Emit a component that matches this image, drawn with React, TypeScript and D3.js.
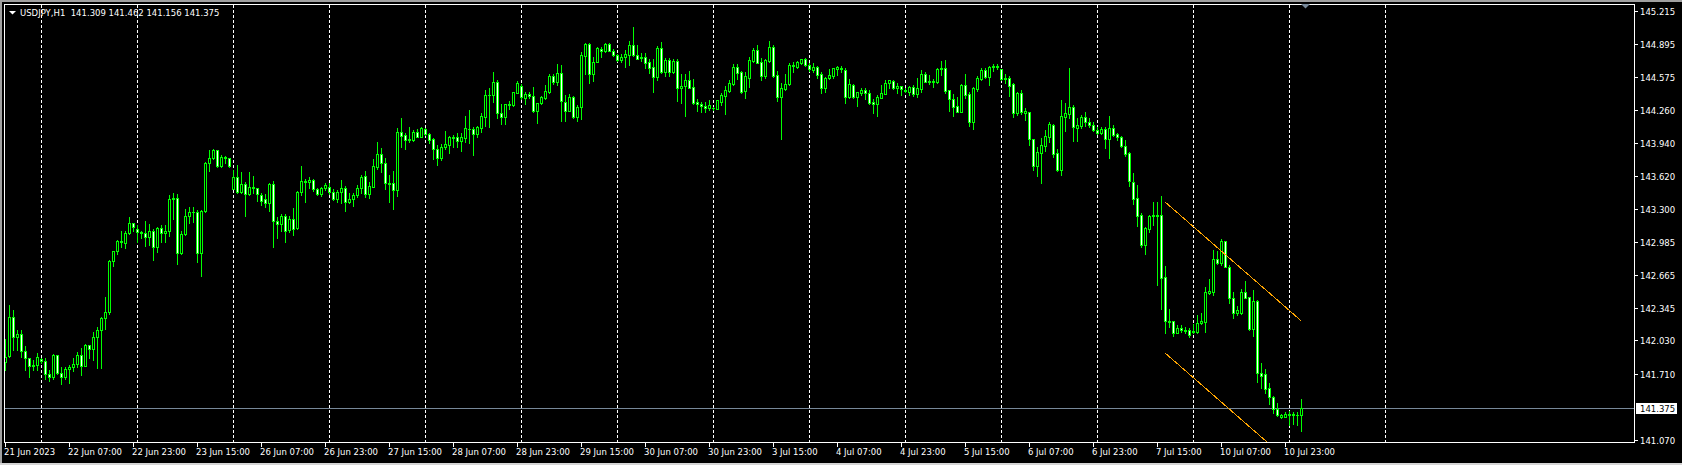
import React from 'react';
import * as d3 from 'd3';

// ---- DATA (USDJPY H1, bar 0 = 21 Jun 2023 15:00) ----
const opens = [
141.818,141.882,142.253,142.059,142.092,141.930,141.856,141.785,141.792,141.847,
141.827,141.702,141.679,141.885,141.718,141.679,141.753,141.769,141.801,141.885,
141.785,141.982,141.943,142.059,142.130,142.250,142.301,142.794,142.891,142.988,
142.975,143.065,143.162,143.110,143.078,143.071,143.033,143.084,142.930,143.116,
143.065,143.084,143.394,143.403,142.878,143.055,143.229,143.271,143.268,142.872,
143.278,143.745,143.790,143.871,143.719,143.800,143.793,143.490,143.606,143.468,
143.539,143.442,143.510,143.503,143.432,143.394,143.355,143.539,143.184,143.152,
143.229,143.097,143.200,143.113,143.461,143.568,143.558,143.577,143.490,143.442,
143.500,143.510,
143.461,143.400,143.461,143.500,143.371,143.394,143.432,143.503,143.619,143.442,
143.516,143.710,143.832,143.742,143.552,143.552,143.487,144.042,144.013,143.967,
143.967,144.042,144.000,144.074,144.022,143.974,143.877,143.797,143.903,143.919,
143.996,143.993,143.961,143.990,144.077,144.074,144.025,144.087,144.193,144.399,
144.399,144.525,144.225,144.187,144.312,144.306,144.425,144.493,144.377,144.412,
144.393,144.251,144.328,144.377,144.435,144.583,144.531,144.612,144.332,144.251,
144.380,144.187,144.290,144.783,144.892,144.609,144.725,144.851,144.825,144.892,
144.831,144.786,144.744,144.767,144.793,144.883,144.793,144.757,144.773,144.718,
144.670,144.580,
144.854,144.629,144.738,144.629,144.732,144.468,144.493,144.545,144.481,144.332,
144.313,144.300,144.274,144.274,144.271,144.339,144.394,144.445,144.510,144.674,
144.626,144.442,144.571,144.735,144.838,144.726,144.587,144.735,144.864,144.593,
144.387,144.461,144.506,144.693,144.677,144.716,144.751,144.693,144.645,144.677,
144.603,144.468,144.564,144.590,144.658,144.668,144.645,144.387,144.500,144.387,
144.426,144.452,144.419,144.332,144.313,144.377,144.416,144.516,144.539,144.468,
144.490,144.448,144.435,144.477,144.410,144.461,144.603,144.532,144.532,144.526,
144.651,144.661,144.448,144.365,144.294,144.242,144.500,144.410,144.145,144.461,
144.558,144.645,144.580,
144.677,144.683,144.651,144.564,144.564,144.509,144.226,144.419,144.232,144.235,
143.974,143.720,143.839,143.913,144.000,144.113,143.839,143.678,144.193,144.219,
144.284,144.087,144.103,144.187,144.145,144.110,144.065,144.032,144.074,143.981,
144.081,144.023,144.000,143.913,143.839,143.559,143.404,143.243,142.956,143.111,
143.233,143.243,143.243,142.640,142.221,142.215,142.105,142.153,142.131,142.131,
142.115,142.115,142.195,142.211,142.492,142.501,142.814,142.775,142.991,142.743,
142.437,142.292,142.292,142.495,142.447,142.137,142.414,141.712,141.705,141.567,
141.480,141.364,141.293,141.293,141.319,141.312,141.306,141.309
];

const highs = [
142.046,142.372,142.324,142.130,142.130,141.976,141.856,141.840,141.911,141.856,
141.856,141.743,141.895,141.888,141.772,141.776,141.789,141.856,141.918,141.953,
141.992,141.985,142.114,142.162,142.259,142.446,142.807,142.897,143.000,143.084,
143.084,143.226,143.168,143.145,143.084,143.187,143.152,143.104,143.123,143.142,
143.142,143.436,143.452,143.445,143.087,143.300,143.316,143.316,143.291,143.291,
143.751,143.871,143.877,143.871,143.819,143.813,143.797,143.677,143.726,143.661,
143.564,143.661,143.619,143.503,143.452,143.445,143.548,143.571,143.220,143.252,
143.252,143.232,143.310,143.474,143.716,143.587,143.613,143.587,143.500,143.510,
143.555,143.548,
143.490,143.484,143.581,143.523,143.452,143.452,143.532,143.629,143.668,143.558,
143.781,143.948,143.887,143.790,143.629,143.668,144.083,144.180,144.032,144.090,
144.064,144.077,144.090,144.080,144.038,143.983,143.919,143.929,144.054,144.006,
144.016,144.038,144.038,144.200,144.258,144.096,144.103,144.225,144.451,144.467,
144.625,144.548,144.316,144.316,144.348,144.432,144.538,144.506,144.432,144.428,
144.483,144.328,144.393,144.499,144.606,144.602,144.702,144.693,144.403,144.409,
144.390,144.303,144.815,144.909,144.902,144.767,144.863,144.870,144.902,144.902,
144.844,144.799,144.796,144.838,144.928,145.060,144.886,144.812,144.805,144.747,
144.754,144.876,
144.912,144.758,144.758,144.748,144.751,144.603,144.603,144.635,144.558,144.365,
144.339,144.332,144.355,144.290,144.352,144.419,144.493,144.548,144.700,144.700,
144.635,144.629,144.774,144.854,144.887,144.764,144.751,144.925,144.887,144.635,
144.516,144.603,144.709,144.719,144.735,144.751,144.758,144.709,144.716,144.680,
144.629,144.574,144.655,144.668,144.687,144.684,144.661,144.555,144.510,144.435,
144.468,144.468,144.452,144.365,144.403,144.500,144.548,144.551,144.548,144.519,
144.493,144.474,144.487,144.500,144.564,144.642,144.629,144.597,144.558,144.668,
144.735,144.742,144.452,144.410,144.387,144.506,144.603,144.435,144.484,144.587,
144.661,144.668,144.687,
144.703,144.703,144.658,144.606,144.587,144.516,144.435,144.451,144.274,144.242,
143.981,143.903,143.984,144.065,144.145,144.123,143.881,144.355,144.322,144.661,
144.306,144.177,144.210,144.242,144.177,144.145,144.097,144.090,144.097,144.200,
144.110,144.039,144.007,143.968,143.855,143.652,143.533,143.265,143.123,143.243,
143.365,143.368,143.430,142.750,142.331,142.221,142.182,142.179,142.157,142.147,
142.189,142.276,142.292,142.550,142.627,142.904,142.898,143.011,142.991,142.756,
142.501,142.363,142.524,142.608,142.453,142.517,142.421,141.808,141.750,141.615,
141.493,141.422,141.319,141.338,141.351,141.338,141.338,141.462
];

const lows = [
141.743,141.872,141.937,141.937,141.872,141.743,141.679,141.743,141.743,141.814,
141.660,141.640,141.660,141.705,141.608,141.653,141.615,141.737,141.776,141.695,
141.782,141.856,141.840,141.760,141.766,142.137,142.285,142.749,142.865,142.936,
142.923,143.058,143.087,142.981,143.017,142.942,142.952,142.807,142.888,142.984,
142.981,143.039,143.200,142.768,142.865,143.049,143.168,143.171,142.791,142.656,
143.271,143.671,143.780,143.703,143.703,143.742,143.710,143.490,143.458,143.452,
143.233,143.436,143.452,143.381,143.339,143.323,143.284,142.936,143.017,143.087,
142.984,143.078,143.052,143.107,143.439,143.371,143.500,143.474,143.436,143.426,
143.484,143.445,
143.387,143.371,143.362,143.284,143.355,143.333,143.420,143.452,143.420,143.403,
143.516,143.684,143.661,143.490,143.371,143.300,143.429,143.903,143.877,143.951,
143.961,143.993,143.993,144.020,143.942,143.787,143.729,143.774,143.884,143.845,
143.903,143.897,143.864,143.951,143.942,143.822,144.000,144.048,144.103,144.096,
144.338,144.177,144.122,144.122,144.270,144.296,144.419,144.361,144.319,144.370,
144.238,144.135,144.316,144.367,144.425,144.509,144.496,144.154,144.154,144.248,
144.177,144.154,144.167,144.609,144.522,144.541,144.722,144.767,144.822,144.825,
144.780,144.735,144.722,144.677,144.696,144.783,144.747,144.735,144.660,144.619,
144.435,144.548,
144.613,144.590,144.590,144.613,144.345,144.329,144.203,144.468,144.319,144.249,
144.242,144.236,144.258,144.255,144.268,144.307,144.220,144.435,144.500,144.558,
144.426,144.371,144.484,144.726,144.709,144.545,144.571,144.726,144.580,144.345,
143.978,144.452,144.500,144.629,144.661,144.700,144.680,144.635,144.622,144.571,
144.426,144.435,144.558,144.571,144.597,144.622,144.329,144.377,144.377,144.300,
144.403,144.365,144.319,144.232,144.203,144.371,144.410,144.468,144.461,144.423,
144.403,144.435,144.403,144.397,144.387,144.435,144.526,144.506,144.484,144.519,
144.597,144.426,144.249,144.203,144.236,144.236,144.371,144.107,144.074,144.445,
144.548,144.571,144.500,
144.638,144.651,144.548,144.516,144.396,144.193,144.210,144.219,144.161,143.919,
143.678,143.620,143.555,143.865,143.952,143.800,143.668,143.629,144.058,144.177,
143.961,143.961,144.081,144.103,144.090,144.055,144.026,144.026,143.894,143.797,
144.007,143.968,143.897,143.813,143.526,143.349,143.136,142.936,142.866,143.082,
143.146,142.566,142.331,142.105,142.163,142.073,142.098,142.115,142.098,142.060,
142.098,142.105,142.189,142.115,142.476,142.469,142.769,142.759,142.737,142.389,
142.244,142.276,142.285,142.437,142.131,142.073,141.631,141.567,141.518,141.415,
141.325,141.299,141.277,141.293,141.212,141.222,141.212,141.156
];

const closes = [
141.872,142.253,142.059,142.092,141.930,141.856,141.785,141.792,141.872,141.827,
141.702,141.679,141.885,141.718,141.679,141.753,141.769,141.801,141.885,141.785,
141.982,141.943,142.059,142.130,142.250,142.301,142.794,142.891,142.988,142.978,
143.068,143.162,143.129,143.078,143.071,143.033,143.084,142.930,143.116,143.065,
143.084,143.394,143.403,142.878,143.055,143.229,143.271,143.268,142.872,143.278,
143.745,143.790,143.871,143.719,143.800,143.793,143.719,143.606,143.468,143.539,
143.442,143.510,143.503,143.442,143.381,143.355,143.539,143.184,143.152,143.229,
143.087,143.200,143.107,143.461,143.568,143.561,143.577,143.490,143.442,143.500,
143.529,143.461,
143.400,143.461,143.500,143.371,143.394,143.432,143.503,143.610,143.449,143.523,
143.716,143.832,143.742,143.555,143.545,143.487,144.042,144.006,143.967,143.974,
144.042,144.000,144.080,144.025,143.967,143.877,143.797,143.897,143.926,143.996,
143.990,143.961,143.993,144.080,144.071,144.025,144.090,144.196,144.399,144.403,
144.525,144.225,144.187,144.312,144.309,144.428,144.515,144.380,144.412,144.396,
144.248,144.322,144.380,144.438,144.583,144.531,144.612,144.348,144.251,144.380,
144.187,144.290,144.786,144.892,144.609,144.725,144.854,144.825,144.892,144.831,
144.789,144.744,144.767,144.796,144.883,144.793,144.754,144.773,144.715,144.664,
144.580,144.854,
144.629,144.738,144.629,144.732,144.468,144.490,144.545,144.474,144.329,144.313,
144.300,144.274,144.307,144.281,144.352,144.403,144.448,144.516,144.674,144.619,
144.435,144.590,144.742,144.838,144.716,144.587,144.742,144.864,144.590,144.387,
144.474,144.513,144.693,144.680,144.719,144.751,144.693,144.651,144.671,144.597,
144.468,144.564,144.597,144.661,144.674,144.651,144.387,144.506,144.387,144.429,
144.452,144.419,144.329,144.313,144.387,144.419,144.519,144.545,144.468,144.487,
144.458,144.439,144.477,144.410,144.468,144.603,144.532,144.539,144.539,144.658,
144.661,144.445,144.361,144.290,144.242,144.500,144.403,144.145,144.468,144.564,
144.645,144.577,144.677,
144.683,144.677,144.554,144.554,144.493,144.232,144.419,144.235,144.245,143.974,
143.720,143.849,143.916,144.003,144.123,143.832,143.678,144.200,144.232,144.284,
144.097,144.113,144.187,144.145,144.110,144.065,144.032,144.074,143.981,144.081,
144.016,143.997,143.913,143.836,143.575,143.401,143.236,142.953,143.114,143.236,
143.243,143.236,142.637,142.221,142.211,142.105,142.153,142.131,142.124,142.079,
142.121,142.195,142.218,142.495,142.508,142.814,142.775,142.991,142.743,142.437,
142.292,142.324,142.495,142.440,142.137,142.414,141.712,141.689,141.563,141.480,
141.364,141.309,141.309,141.319,141.312,141.319,141.312,141.375
];

const priceTicks = [145.215, 144.895, 144.575, 144.260, 143.940, 143.620, 143.300,
  142.985, 142.665, 142.345, 142.030, 141.710, 141.070];
const currentPrice = 141.375;

const timeLabelBars = [0,16,32,48,64,80,96,112,128,144,160,176,192,208,224,240,256,272,288,304,320];
const timeLabels = ['21 Jun 2023','22 Jun 07:00','22 Jun 23:00','23 Jun 15:00','26 Jun 07:00',
  '26 Jun 23:00','27 Jun 15:00','28 Jun 07:00','28 Jun 23:00','29 Jun 15:00','30 Jun 07:00',
  '30 Jun 23:00','3 Jul 15:00','4 Jul 07:00','4 Jul 23:00','5 Jul 15:00','6 Jul 07:00',
  '6 Jul 23:00','7 Jul 15:00','10 Jul 07:00','10 Jul 23:00'];
const dayStartBars = [9,33,57,81,105,129,153,177,201,225,249,273,297,321,345];

const channelUpper = [[290, 143.365], [323.9, 142.220]];
const channelLower = [[290, 141.905], [323.9, 140.760]];

const title = 'USDJPY,H1  141.309 141.462 141.156 141.375';

// ---- CHART ----
const W = 1682, H = 465;
const L = 4, T = 4, R = 1634, B = 442;
const LIME = '#00ff00';
const FONT = '"DejaVu Sans", Tahoma, sans-serif';

export default function App() {
  const x = d3.scaleLinear().domain([0, 324]).range([5, 1301]);
  const y = d3.scaleLinear().domain([141.070, 145.215]).range([439.7, 11]);
  const line = d3.line<number[]>().x(d => x(d[0]) + 0.5).y(d => y(d[1]));
  const curY = Math.round(y(currentPrice));

  return (
    <div style={{ position: 'absolute', left: 0, top: 0, width: W, height: H }}>
      <svg width={W} height={H} style={{ display: 'block' }} fontFamily={FONT}>
        <defs>
          <clipPath id="plot"><rect x={L + 1} y={T + 1} width={R - L - 1} height={B - T - 1} /></clipPath>
        </defs>
        <rect x={0} y={0} width={W} height={H} fill="#000" />
        {/* window frame */}
        <rect x={0} y={0} width={W} height={2} fill="#a0a0a0" />
        <rect x={0} y={0} width={2} height={H} fill="#a0a0a0" />
        <rect x={0} y={H - 2} width={W} height={2} fill="#d4d4d4" />

        {/* grid */}
        <g clipPath="url(#plot)">
          {dayStartBars.map(b => (
            <line key={b} x1={x(b) + 0.5} x2={x(b) + 0.5} y1={T + 1} y2={B} stroke="#fff"
              strokeWidth={1} strokeDasharray="3,2" shapeRendering="crispEdges" />
          ))}
        </g>

        {/* current price line */}
        <line x1={L} x2={R} y1={curY + 0.5} y2={curY + 0.5} stroke="#778899" strokeWidth={1} shapeRendering="crispEdges" />

        {/* candles */}
        <g clipPath="url(#plot)" shapeRendering="crispEdges">
          {closes.map((c, i) => {
            const cx = Math.round(x(i));
            const o = opens[i];
            const yH = Math.round(y(highs[i]));
            const yL = Math.round(y(lows[i]));
            const yO = Math.round(y(o));
            const yC = Math.round(y(c));
            const top = Math.min(yO, yC), bot = Math.max(yO, yC);
            const bull = c >= o;
            return (
              <g key={i}>
                <rect x={cx} y={yH} width={1} height={yL - yH + 1} fill={LIME} />
                <rect x={cx - 1} y={top} width={3} height={bot - top + 1} fill={LIME} />
                {bot - top >= 2 && (
                  <rect x={cx} y={top + 1} width={1} height={bot - top - 1} fill={bull ? '#000' : '#fff'} />
                )}
              </g>
            );
          })}
        </g>

        {/* channel */}
        <g clipPath="url(#plot)">
          <path d={line(channelUpper) || ''} stroke="#ffa500" strokeWidth={1} fill="none" shapeRendering="crispEdges" />
          <path d={line(channelLower) || ''} stroke="#ffa500" strokeWidth={1} fill="none" shapeRendering="crispEdges" />
        </g>

        {/* frame */}
        <rect x={L + 0.5} y={T + 0.5} width={R - L} height={B - T} fill="none" stroke="#fff" strokeWidth={1} shapeRendering="crispEdges" />

        {/* price axis */}
        {priceTicks.map(p => {
          const py = Math.round(y(p));
          return (
            <g key={p}>
              <line x1={R + 1} x2={R + 4} y1={py + 0.5} y2={py + 0.5} stroke="#fff" shapeRendering="crispEdges" />
              <text x={1640} y={py + 3.5} fill="#fff" fontSize={8.5}>{p.toFixed(3)}</text>
            </g>
          );
        })}
        <rect x={1636} y={curY - 5} width={41} height={11} fill="#fff" />
        <text x={1640} y={curY + 3.5} fill="#000" fontSize={8.5}>{currentPrice.toFixed(3)}</text>

        {/* time axis */}
        {timeLabelBars.map((b, k) => (
          <g key={b}>
            <line x1={x(b) + 0.5} x2={x(b) + 0.5} y1={B} y2={B + 5} stroke="#fff" shapeRendering="crispEdges" />
            <text x={x(b) - 1} y={455} fill="#fff" fontSize={8.5}>{timeLabels[k]}</text>
          </g>
        ))}

        {/* shift marker */}
        <path d="M1301,4 L1310,4 L1305.5,8.5 Z" fill="#778899" />

        {/* title */}
        <path d="M9,11 L16,11 L12.5,14.5 Z" fill="#fff" />
        <text x={20} y={15.5} fill="#fff" fontSize={8.5} style={{ whiteSpace: 'pre' }}>{title}</text>
      </svg>
    </div>
  );
}
